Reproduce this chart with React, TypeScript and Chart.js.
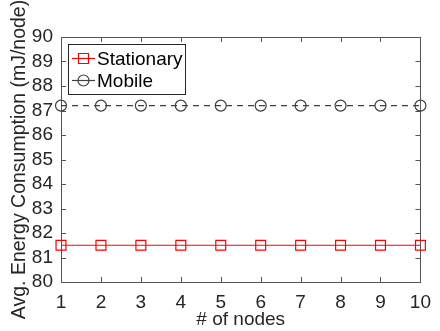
import React, { useEffect, useRef } from 'react';
import { Chart, registerables } from 'chart.js';

Chart.register(...registerables);

const nodes = [1, 2, 3, 4, 5, 6, 7, 8, 9, 10];
const stationary = [81.5, 81.5, 81.5, 81.5, 81.5, 81.5, 81.5, 81.5, 81.5, 81.5];
const mobile = [87.2, 87.2, 87.2, 87.2, 87.2, 87.2, 87.2, 87.2, 87.2, 87.2];
const seriesNames = ['Stationary', 'Mobile'];
const xTitle = '# of nodes';
const yTitle = 'Avg. Energy Consumption (mJ/node)';

const FONT = '"Liberation Sans", Arial, Helvetica, sans-serif';
const TEXT = '#262626';
const AXIS = '#555555';
const RED = '#ff0000';
const GREY = '#404040';

const framePlugin = {
  id: 'frame',
  beforeDatasetsDraw(chart: any) {
    const { ctx, chartArea, scales } = chart;
    const { left, right, top, bottom } = chartArea;
    const xs = scales.x;
    const ys = scales.y;
    const tl = 5;
    ctx.save();
    ctx.strokeStyle = AXIS;
    ctx.lineWidth = 1;
    ctx.strokeRect(Math.round(left) + 0.5, Math.round(top) + 0.5, Math.round(right - left), Math.round(bottom - top));
    ctx.beginPath();
    xs.ticks.forEach((t: any) => {
      const px = Math.round(xs.getPixelForValue(t.value)) + 0.5;
      ctx.moveTo(px, bottom);
      ctx.lineTo(px, bottom - tl);
      ctx.moveTo(px, top);
      ctx.lineTo(px, top + tl);
    });
    ys.ticks.forEach((t: any) => {
      const py = Math.round(ys.getPixelForValue(t.value)) + 0.5;
      ctx.moveTo(left, py);
      ctx.lineTo(left + tl, py);
      ctx.moveTo(right, py);
      ctx.lineTo(right - tl, py);
    });
    ctx.stroke();
    ctx.restore();
  },
};

const legendPlugin = {
  id: 'boxLegend',
  afterDraw(chart: any) {
    const { ctx, chartArea } = chart;
    const x0 = chartArea.left + 7;
    const y0 = chartArea.top + 7;
    const w = 117;
    const h = 50;
    ctx.save();
    ctx.fillStyle = '#ffffff';
    ctx.fillRect(x0, y0, w, h);
    ctx.strokeStyle = TEXT;
    ctx.lineWidth = 1;
    ctx.strokeRect(x0 + 0.5, y0 + 0.5, w, h);
    const rows = [
      { name: seriesNames[0], color: RED, shape: 'rect', cy: y0 + 14.5 },
      { name: seriesNames[1], color: GREY, shape: 'circle', cy: y0 + 36.5 },
    ];
    rows.forEach((r) => {
      ctx.strokeStyle = r.color;
      ctx.lineWidth = 1.2;
      ctx.beginPath();
      ctx.moveTo(x0 + 4, r.cy);
      ctx.lineTo(x0 + 27, r.cy);
      ctx.stroke();
      ctx.beginPath();
      const cx = x0 + 15.5;
      if (r.shape === 'rect') {
        ctx.rect(cx - 5, r.cy - 5, 10, 10);
      } else {
        ctx.arc(cx, r.cy, 5.5, 0, Math.PI * 2);
      }
      ctx.stroke();
      ctx.fillStyle = '#000000';
      ctx.font = `19px ${FONT}`;
      ctx.textBaseline = 'middle';
      ctx.textAlign = 'left';
      ctx.fillText(r.name, x0 + 29, r.cy + 1);
    });
    ctx.restore();
  },
};

export default function App() {
  const ref = useRef<HTMLCanvasElement>(null);
  useEffect(() => {
    if (!ref.current) return;
    const chart = new Chart(ref.current, {
      type: 'line',
      data: {
        datasets: [
          {
            label: seriesNames[0],
            data: nodes.map((n, i) => ({ x: n, y: stationary[i] })),
            borderColor: RED,
            backgroundColor: 'transparent',
            borderWidth: 1.2,
            pointStyle: 'rect',
            pointRadius: 7,
            pointBorderWidth: 1.2,
            pointBorderColor: RED,
            pointBackgroundColor: 'transparent',
            clip: false,
          },
          {
            label: seriesNames[1],
            data: nodes.map((n, i) => ({ x: n, y: mobile[i] })),
            borderColor: GREY,
            backgroundColor: 'transparent',
            borderWidth: 1.2,
            borderDash: [6, 5],
            pointStyle: 'circle',
            pointRadius: 5.5,
            pointBorderWidth: 1.2,
            pointBorderColor: GREY,
            pointBackgroundColor: 'transparent',
            clip: false,
          },
        ],
      },
      options: {
        responsive: false,
        animation: false,
        layout: { padding: { left: 0, right: 12, top: 37, bottom: 0 } },
        plugins: { legend: { display: false }, tooltip: { enabled: false } },
        scales: {
          x: {
            type: 'linear',
            min: 1,
            max: 10,
            ticks: { stepSize: 1, autoSkip: false, padding: 9, color: TEXT, font: { family: FONT, size: 19 } },
            grid: { display: false, drawTicks: false },
            border: { display: false },
            title: { display: true, text: xTitle, color: TEXT, font: { family: FONT, size: 19 }, padding: { top: 0, bottom: 0 } },
            afterFit: (s: any) => { s.height = 49; },
          },
          y: {
            type: 'linear',
            min: 80,
            max: 90,
            ticks: { stepSize: 1, autoSkip: false, padding: 8, color: TEXT, font: { family: FONT, size: 19 } },
            grid: { display: false, drawTicks: false },
            border: { display: false },
            title: { display: true, text: yTitle, color: TEXT, font: { family: FONT, size: 19.5 }, padding: { top: 8, bottom: 0 } },
            afterFit: (s: any) => { s.width = 61; },
          },
        },
      },
      plugins: [framePlugin, legendPlugin],
    } as any);
    return () => chart.destroy();
  }, []);
  return (
    <div style={{ position: 'fixed', left: 0, top: 0, width: 440, height: 331, background: '#fff' }}>
      <canvas ref={ref} width={440} height={331} />
    </div>
  );
}
